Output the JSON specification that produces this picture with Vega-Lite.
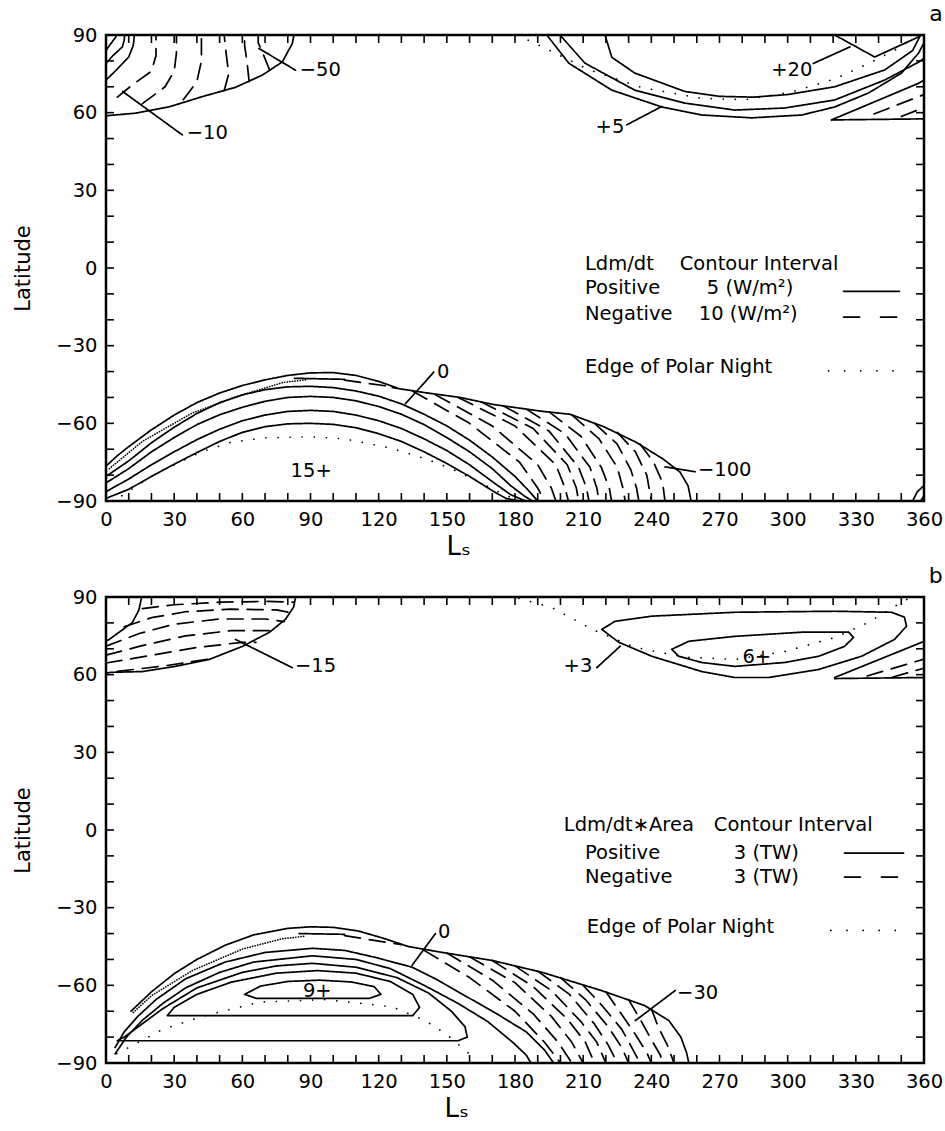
{
"$schema": "https://vega.github.io/schema/vega-lite/v6.json",
"padding": {"left": 10, "top": 1, "right": 0, "bottom": 0},
"background": "white",
"config": {
 "view": {"stroke": "black", "strokeWidth": 2.5},
 "axis": {"domain": false, "labelColor": "black", "titleColor": "black", "labelFont": "DejaVu Sans", "titleFont": "DejaVu Sans", "labelFontSize": 19.5, "grid": false, "labelFlush": false, "labelOverlap": false, "titleFontWeight": "normal", "ticks": false, "tickSize": 0, "labelPadding": 9},
 "title": {"font": "DejaVu Sans", "fontSize": 22, "fontWeight": "normal", "anchor": "end", "color": "black", "offset": -1}
},
"datasets": {
 "tx": [{"v":0},{"v":10},{"v":20},{"v":30},{"v":40},{"v":50},{"v":60},{"v":70},{"v":80},{"v":90},{"v":100},{"v":110},{"v":120},{"v":130},{"v":140},{"v":150},{"v":160},{"v":170},{"v":180},{"v":190},{"v":200},{"v":210},{"v":220},{"v":230},{"v":240},{"v":250},{"v":260},{"v":270},{"v":280},{"v":290},{"v":300},{"v":310},{"v":320},{"v":330},{"v":340},{"v":350},{"v":360}],
 "ty": [{"v":-90},{"v":-80},{"v":-70},{"v":-60},{"v":-50},{"v":-40},{"v":-30},{"v":-20},{"v":-10},{"v":0},{"v":10},{"v":20},{"v":30},{"v":40},{"v":50},{"v":60},{"v":70},{"v":80},{"v":90}],
 "la": [
  {"g":"c1","k":"pos","x":0,"y":84.1},{"g":"c1","k":"pos","x":2,"y":86.5},{"g":"c1","k":"pos","x":4.3,"y":89.2},{"g":"c1","k":"pos","x":4.6,"y":90},
  {"g":"c2","k":"pos","x":0,"y":79},{"g":"c2","k":"pos","x":3,"y":82},{"g":"c2","k":"pos","x":7.2,"y":85.4},{"g":"c2","k":"pos","x":8,"y":88},{"g":"c2","k":"pos","x":8.2,"y":90},
  {"g":"c3","k":"pos","x":0,"y":72.6},{"g":"c3","k":"pos","x":4,"y":76},{"g":"c3","k":"pos","x":10,"y":81.5},{"g":"c3","k":"pos","x":12,"y":86},{"g":"c3","k":"pos","x":12.5,"y":90},
  {"g":"d1","k":"neg","x":5,"y":66},{"g":"d1","k":"neg","x":12,"y":71},{"g":"d1","k":"neg","x":20,"y":76},{"g":"d1","k":"neg","x":22,"y":82},{"g":"d1","k":"neg","x":22,"y":90},
  {"g":"d2","k":"neg","x":16,"y":63.5},{"g":"d2","k":"neg","x":26,"y":70},{"g":"d2","k":"neg","x":30,"y":76},{"g":"d2","k":"neg","x":31,"y":83},{"g":"d2","k":"neg","x":31,"y":90},
  {"g":"d3","k":"neg","x":34,"y":65},{"g":"d3","k":"neg","x":40,"y":72},{"g":"d3","k":"neg","x":42,"y":80},{"g":"d3","k":"neg","x":42,"y":90},
  {"g":"d4","k":"neg","x":52,"y":68.5},{"g":"d4","k":"neg","x":54,"y":75},{"g":"d4","k":"neg","x":53,"y":82},{"g":"d4","k":"neg","x":52,"y":90},
  {"g":"d5","k":"neg","x":63,"y":72},{"g":"d5","k":"neg","x":62,"y":80},{"g":"d5","k":"neg","x":61,"y":86},{"g":"d5","k":"neg","x":61,"y":90},
  {"g":"d6","k":"neg","x":72,"y":76.5},{"g":"d6","k":"neg","x":69,"y":83},{"g":"d6","k":"neg","x":67,"y":87},{"g":"d6","k":"neg","x":67,"y":90},
  {"g":"e1","k":"edge","x":0,"y":58.8},{"g":"e1","k":"edge","x":13,"y":59.8},{"g":"e1","k":"edge","x":28,"y":62.3},{"g":"e1","k":"edge","x":42.4,"y":66.2},{"g":"e1","k":"edge","x":57,"y":69.8},{"g":"e1","k":"edge","x":68.8,"y":74.5},{"g":"e1","k":"edge","x":77.6,"y":79.6},{"g":"e1","k":"edge","x":82,"y":86.7},{"g":"e1","k":"edge","x":82.7,"y":90},
  {"g":"L1","k":"lead","x":7.3,"y":68.2},{"g":"L1","k":"lead","x":33.6,"y":51.4},
  {"g":"L2","k":"lead","x":67.3,"y":84.8},{"g":"L2","k":"lead","x":83.4,"y":76.4},
  {"g":"r1","k":"pos","x":194,"y":90},{"g":"r1","k":"pos","x":203.7,"y":79.1},{"g":"r1","k":"pos","x":222.6,"y":68.7},{"g":"r1","k":"pos","x":244.6,"y":62.2},{"g":"r1","k":"pos","x":262.2,"y":59.1},{"g":"r1","k":"pos","x":284.2,"y":58},{"g":"r1","k":"pos","x":306.2,"y":59.1},{"g":"r1","k":"pos","x":320.7,"y":62.2},{"g":"r1","k":"pos","x":335.6,"y":67.6},{"g":"r1","k":"pos","x":350.1,"y":75.3},{"g":"r1","k":"pos","x":357.6,"y":83},{"g":"r1","k":"pos","x":360,"y":87},
  {"g":"r2","k":"pos","x":199.8,"y":90},{"g":"r2","k":"pos","x":210.8,"y":79.1},{"g":"r2","k":"pos","x":232.7,"y":68.7},{"g":"r2","k":"pos","x":254.7,"y":63.7},{"g":"r2","k":"pos","x":276.7,"y":61},{"g":"r2","k":"pos","x":298.7,"y":61.8},{"g":"r2","k":"pos","x":320.7,"y":64.9},{"g":"r2","k":"pos","x":342.7,"y":72.6},{"g":"r2","k":"pos","x":357.6,"y":79.5},{"g":"r2","k":"pos","x":360,"y":81},
  {"g":"r3","k":"pos","x":219.6,"y":90},{"g":"r3","k":"pos","x":222.6,"y":81.4},{"g":"r3","k":"pos","x":232.7,"y":75.3},{"g":"r3","k":"pos","x":254.7,"y":68.2},{"g":"r3","k":"pos","x":270,"y":66.3},{"g":"r3","k":"pos","x":285,"y":66},{"g":"r3","k":"pos","x":300,"y":67},{"g":"r3","k":"pos","x":320.7,"y":70},{"g":"r3","k":"pos","x":342.7,"y":76.5},{"g":"r3","k":"pos","x":355,"y":84},{"g":"r3","k":"pos","x":358.5,"y":90},
  {"g":"n1","k":"night","x":181,"y":90},{"g":"n1","k":"night","x":193,"y":85},{"g":"n1","k":"night","x":212.5,"y":76.6},{"g":"n1","k":"night","x":235.8,"y":69.7},{"g":"n1","k":"night","x":262.2,"y":65.5},{"g":"n1","k":"night","x":281,"y":65},{"g":"n1","k":"night","x":301.8,"y":68},{"g":"n1","k":"night","x":320.7,"y":73},{"g":"n1","k":"night","x":335.6,"y":79},{"g":"n1","k":"night","x":350.1,"y":85.5},{"g":"n1","k":"night","x":356,"y":89.6},
  {"g":"t20","k":"pos","x":320.7,"y":90},{"g":"t20","k":"pos","x":338.3,"y":81.5},{"g":"t20","k":"pos","x":357.5,"y":89.2},{"g":"t20","k":"pos","x":358,"y":90},
  {"g":"L3","k":"lead","x":311.3,"y":79},{"g":"L3","k":"lead","x":327.4,"y":85.4},
  {"g":"L4","k":"lead","x":229.2,"y":55.3},{"g":"L4","k":"lead","x":244.6,"y":62.4},
  {"g":"w1","k":"pos","x":319.3,"y":57.2},{"g":"w1","k":"pos","x":357.5,"y":71.3},{"g":"w1","k":"pos","x":360,"y":72.5},
  {"g":"w2","k":"edge","x":319.3,"y":57.2},{"g":"w2","k":"edge","x":360,"y":57.6},
  {"g":"w3","k":"neg","x":338,"y":59.5},{"g":"w3","k":"neg","x":360,"y":67},
  {"g":"w4","k":"neg","x":350,"y":58.5},{"g":"w4","k":"neg","x":360,"y":62},
  {"g":"s1","k":"pos","x":0,"y":-76.5},{"g":"s1","k":"pos","x":5,"y":-72.5},{"g":"s1","k":"pos","x":10,"y":-69},{"g":"s1","k":"pos","x":20,"y":-62.5},{"g":"s1","k":"pos","x":30,"y":-56.8},{"g":"s1","k":"pos","x":40,"y":-52},{"g":"s1","k":"pos","x":50,"y":-48.3},{"g":"s1","k":"pos","x":60,"y":-45.4},{"g":"s1","k":"pos","x":70,"y":-43.2},{"g":"s1","k":"pos","x":80,"y":-41.5},{"g":"s1","k":"pos","x":90,"y":-40.5},{"g":"s1","k":"pos","x":100,"y":-40.4},{"g":"s1","k":"pos","x":110,"y":-41.5},{"g":"s1","k":"pos","x":120,"y":-43.8},{"g":"s1","k":"pos","x":128,"y":-46.3},
  {"g":"s2","k":"pos","x":0,"y":-80.5},{"g":"s2","k":"pos","x":10,"y":-74.5},{"g":"s2","k":"pos","x":20,"y":-67.5},{"g":"s2","k":"pos","x":30,"y":-61.5},{"g":"s2","k":"pos","x":40,"y":-56.2},{"g":"s2","k":"pos","x":50,"y":-52},{"g":"s2","k":"pos","x":60,"y":-49},{"g":"s2","k":"pos","x":70,"y":-47},{"g":"s2","k":"pos","x":80,"y":-45.9},{"g":"s2","k":"pos","x":90,"y":-45.7},{"g":"s2","k":"pos","x":100,"y":-46.2},{"g":"s2","k":"pos","x":110,"y":-47.5},{"g":"s2","k":"pos","x":120,"y":-49.5},{"g":"s2","k":"pos","x":130,"y":-52.5},{"g":"s2","k":"pos","x":140,"y":-56.5},{"g":"s2","k":"pos","x":150,"y":-61},{"g":"s2","k":"pos","x":160,"y":-66.5},{"g":"s2","k":"pos","x":170,"y":-73},{"g":"s2","k":"pos","x":180,"y":-80.5},{"g":"s2","k":"pos","x":186,"y":-86},{"g":"s2","k":"pos","x":190,"y":-90},
  {"g":"s3","k":"pos","x":0,"y":-83},{"g":"s3","k":"pos","x":10,"y":-77.5},{"g":"s3","k":"pos","x":20,"y":-71},{"g":"s3","k":"pos","x":30,"y":-65.5},{"g":"s3","k":"pos","x":40,"y":-60.5},{"g":"s3","k":"pos","x":50,"y":-56.7},{"g":"s3","k":"pos","x":60,"y":-53.8},{"g":"s3","k":"pos","x":70,"y":-51.5},{"g":"s3","k":"pos","x":80,"y":-50},{"g":"s3","k":"pos","x":90,"y":-49.6},{"g":"s3","k":"pos","x":100,"y":-50},{"g":"s3","k":"pos","x":110,"y":-51.3},{"g":"s3","k":"pos","x":120,"y":-53.5},{"g":"s3","k":"pos","x":130,"y":-56.5},{"g":"s3","k":"pos","x":140,"y":-60.5},{"g":"s3","k":"pos","x":150,"y":-65.5},{"g":"s3","k":"pos","x":160,"y":-71},{"g":"s3","k":"pos","x":170,"y":-77.5},{"g":"s3","k":"pos","x":178,"y":-84},{"g":"s3","k":"pos","x":184,"y":-88},{"g":"s3","k":"pos","x":187.6,"y":-90},
  {"g":"s4","k":"pos","x":0,"y":-86.4},{"g":"s4","k":"pos","x":10,"y":-81.5},{"g":"s4","k":"pos","x":20,"y":-76},{"g":"s4","k":"pos","x":30,"y":-71},{"g":"s4","k":"pos","x":40,"y":-66.3},{"g":"s4","k":"pos","x":50,"y":-62.3},{"g":"s4","k":"pos","x":60,"y":-59},{"g":"s4","k":"pos","x":70,"y":-56.8},{"g":"s4","k":"pos","x":80,"y":-55.4},{"g":"s4","k":"pos","x":90,"y":-55},{"g":"s4","k":"pos","x":100,"y":-55.4},{"g":"s4","k":"pos","x":110,"y":-56.8},{"g":"s4","k":"pos","x":120,"y":-59},{"g":"s4","k":"pos","x":130,"y":-62},{"g":"s4","k":"pos","x":140,"y":-66},{"g":"s4","k":"pos","x":150,"y":-70.5},{"g":"s4","k":"pos","x":160,"y":-76},{"g":"s4","k":"pos","x":170,"y":-82.5},{"g":"s4","k":"pos","x":178,"y":-87.5},{"g":"s4","k":"pos","x":184.5,"y":-90},
  {"g":"s5","k":"pos","x":0,"y":-89},{"g":"s5","k":"pos","x":10,"y":-85.5},{"g":"s5","k":"pos","x":20,"y":-80.5},{"g":"s5","k":"pos","x":30,"y":-75.8},{"g":"s5","k":"pos","x":40,"y":-71.3},{"g":"s5","k":"pos","x":50,"y":-67},{"g":"s5","k":"pos","x":60,"y":-63.5},{"g":"s5","k":"pos","x":70,"y":-61.3},{"g":"s5","k":"pos","x":80,"y":-60.2},{"g":"s5","k":"pos","x":90,"y":-60},{"g":"s5","k":"pos","x":100,"y":-60.4},{"g":"s5","k":"pos","x":110,"y":-61.7},{"g":"s5","k":"pos","x":120,"y":-64},{"g":"s5","k":"pos","x":130,"y":-67},{"g":"s5","k":"pos","x":140,"y":-71},{"g":"s5","k":"pos","x":150,"y":-75.5},{"g":"s5","k":"pos","x":160,"y":-80.5},{"g":"s5","k":"pos","x":170,"y":-86},{"g":"s5","k":"pos","x":176,"y":-89},{"g":"s5","k":"pos","x":182,"y":-90},
  {"g":"n2","k":"night","x":7,"y":-88},{"g":"n2","k":"night","x":20,"y":-80.4},{"g":"n2","k":"night","x":30,"y":-76},{"g":"n2","k":"night","x":42,"y":-71},{"g":"n2","k":"night","x":55,"y":-67.3},{"g":"n2","k":"night","x":70,"y":-65.6},{"g":"n2","k":"night","x":90,"y":-65.2},{"g":"n2","k":"night","x":105,"y":-66},{"g":"n2","k":"night","x":125,"y":-69.5},{"g":"n2","k":"night","x":140,"y":-73.5},{"g":"n2","k":"night","x":152,"y":-77.5},{"g":"n2","k":"night","x":165,"y":-83},{"g":"n2","k":"night","x":175,"y":-87.5},{"g":"n2","k":"night","x":181,"y":-89.5},
  {"g":"db","k":"dense","x":1.5,"y":-77.5},{"g":"db","k":"dense","x":16,"y":-67},{"g":"db","k":"dense","x":38,"y":-56},{"g":"db","k":"dense","x":60,"y":-49},{"g":"db","k":"dense","x":78,"y":-44.2},{"g":"db","k":"dense","x":88,"y":-43.2},
  {"g":"g1","k":"pos","x":83,"y":-42.6},{"g":"g1","k":"pos","x":105,"y":-43},
  {"g":"g2","k":"neg","x":105,"y":-43.3},{"g":"g2","k":"neg","x":127,"y":-46},
  {"g":"e2","k":"edge","x":126,"y":-46.2},{"g":"e2","k":"edge","x":140,"y":-48.1},{"g":"e2","k":"edge","x":155.8,"y":-50},{"g":"e2","k":"edge","x":170.3,"y":-52.7},{"g":"e2","k":"edge","x":192.3,"y":-55.4},{"g":"e2","k":"edge","x":204.2,"y":-56.5},{"g":"e2","k":"edge","x":218.8,"y":-61.2},{"g":"e2","k":"edge","x":233.3,"y":-67.3},{"g":"e2","k":"edge","x":245.2,"y":-73.8},{"g":"e2","k":"edge","x":252.6,"y":-78.8},{"g":"e2","k":"edge","x":256.2,"y":-84.2},{"g":"e2","k":"edge","x":257.5,"y":-90},
  {"g":"f1","k":"neg","x":135,"y":-47.6},{"g":"f1","k":"neg","x":160,"y":-60},{"g":"f1","k":"neg","x":182,"y":-75},{"g":"f1","k":"neg","x":190,"y":-85},{"g":"f1","k":"neg","x":193,"y":-90},
  {"g":"f2","k":"neg","x":145,"y":-49},{"g":"f2","k":"neg","x":170,"y":-61},{"g":"f2","k":"neg","x":190,"y":-76},{"g":"f2","k":"neg","x":196,"y":-85},{"g":"f2","k":"neg","x":198,"y":-90},
  {"g":"f3","k":"neg","x":155,"y":-50},{"g":"f3","k":"neg","x":180,"y":-61},{"g":"f3","k":"neg","x":198,"y":-76},{"g":"f3","k":"neg","x":202,"y":-85},{"g":"f3","k":"neg","x":203.5,"y":-90},
  {"g":"f4","k":"neg","x":165,"y":-51.7},{"g":"f4","k":"neg","x":188,"y":-62},{"g":"f4","k":"neg","x":203,"y":-76},{"g":"f4","k":"neg","x":207,"y":-85},{"g":"f4","k":"neg","x":208,"y":-90},
  {"g":"f5","k":"neg","x":175,"y":-53.3},{"g":"f5","k":"neg","x":195,"y":-63},{"g":"f5","k":"neg","x":208,"y":-77},{"g":"f5","k":"neg","x":211.5,"y":-85},{"g":"f5","k":"neg","x":212.5,"y":-90},
  {"g":"f6","k":"neg","x":185,"y":-54.5},{"g":"f6","k":"neg","x":202,"y":-64},{"g":"f6","k":"neg","x":213,"y":-77},{"g":"f6","k":"neg","x":216,"y":-85},{"g":"f6","k":"neg","x":217,"y":-90},
  {"g":"f7","k":"neg","x":195,"y":-55.6},{"g":"f7","k":"neg","x":209,"y":-65},{"g":"f7","k":"neg","x":218,"y":-77},{"g":"f7","k":"neg","x":221.5,"y":-85},{"g":"f7","k":"neg","x":222.5,"y":-90},
  {"g":"f8","k":"neg","x":205,"y":-56.7},{"g":"f8","k":"neg","x":217,"y":-66},{"g":"f8","k":"neg","x":225,"y":-77},{"g":"f8","k":"neg","x":227.5,"y":-85},{"g":"f8","k":"neg","x":228.5,"y":-90},
  {"g":"f9","k":"neg","x":215,"y":-60},{"g":"f9","k":"neg","x":225,"y":-68},{"g":"f9","k":"neg","x":231,"y":-78},{"g":"f9","k":"neg","x":233.5,"y":-85},{"g":"f9","k":"neg","x":234.5,"y":-90},
  {"g":"f10","k":"neg","x":225,"y":-63.5},{"g":"f10","k":"neg","x":233,"y":-71},{"g":"f10","k":"neg","x":238,"y":-80},{"g":"f10","k":"neg","x":240,"y":-90},
  {"g":"f11","k":"neg","x":235,"y":-68},{"g":"f11","k":"neg","x":241,"y":-75},{"g":"f11","k":"neg","x":245,"y":-83},{"g":"f11","k":"neg","x":246,"y":-90},
  {"g":"L5","k":"lead","x":131.8,"y":-52.4},{"g":"L5","k":"lead","x":144.3,"y":-40.2},
  {"g":"L6","k":"lead","x":246,"y":-76.8},{"g":"L6","k":"lead","x":259.3,"y":-78.7},
  {"g":"cr1","k":"pos","x":355,"y":-90},{"g":"cr1","k":"pos","x":357,"y":-86.5},{"g":"cr1","k":"pos","x":360,"y":-84},
  {"g":"cr2","k":"pos","x":358.5,"y":-90},{"g":"cr2","k":"pos","x":360,"y":-88},
  {"g":"kp","k":"pos","x":324.6,"y":-9},{"g":"kp","k":"pos","x":349.2,"y":-9},
  {"g":"kn","k":"kneg","x":324.6,"y":-19},{"g":"kn","k":"kneg","x":349.2,"y":-19},
  {"g":"kd","k":"knight","x":318,"y":-39.7},{"g":"kd","k":"knight","x":347,"y":-39.7}
 ],
 "lb": [
  {"g":"c1","k":"pos","x":0,"y":73},{"g":"c1","k":"pos","x":1.4,"y":73.6},{"g":"c1","k":"pos","x":11.6,"y":80.1},{"g":"c1","k":"pos","x":14.5,"y":85},{"g":"c1","k":"pos","x":15.7,"y":90},
  {"g":"e1","k":"edge","x":0,"y":60.5},{"g":"e1","k":"edge","x":2,"y":60.9},{"g":"e1","k":"edge","x":16,"y":61.2},{"g":"e1","k":"edge","x":30.5,"y":63.2},{"g":"e1","k":"edge","x":45.5,"y":65.9},{"g":"e1","k":"edge","x":60,"y":70.9},{"g":"e1","k":"edge","x":72,"y":76.4},{"g":"e1","k":"edge","x":79,"y":81.4},{"g":"e1","k":"edge","x":82.5,"y":86},{"g":"e1","k":"edge","x":83.5,"y":90},
  {"g":"d1","k":"neg","x":16,"y":85.5},{"g":"d1","k":"neg","x":30,"y":87},{"g":"d1","k":"neg","x":50,"y":88},{"g":"d1","k":"neg","x":70,"y":88.3},{"g":"d1","k":"neg","x":82.8,"y":88},
  {"g":"d2","k":"neg","x":8,"y":78.5},{"g":"d2","k":"neg","x":20,"y":82},{"g":"d2","k":"neg","x":35,"y":84.3},{"g":"d2","k":"neg","x":55,"y":85.3},{"g":"d2","k":"neg","x":75,"y":85},{"g":"d2","k":"neg","x":81,"y":84},
  {"g":"d3","k":"neg","x":0,"y":71},{"g":"d3","k":"neg","x":15,"y":76},{"g":"d3","k":"neg","x":30,"y":79.5},{"g":"d3","k":"neg","x":50,"y":81.5},{"g":"d3","k":"neg","x":70,"y":81.5},{"g":"d3","k":"neg","x":78.5,"y":80.5},
  {"g":"d4","k":"neg","x":0,"y":67.5},{"g":"d4","k":"neg","x":15,"y":71},{"g":"d4","k":"neg","x":35,"y":75},{"g":"d4","k":"neg","x":55,"y":77},{"g":"d4","k":"neg","x":72,"y":77},
  {"g":"d5","k":"neg","x":0,"y":64.5},{"g":"d5","k":"neg","x":20,"y":67.5},{"g":"d5","k":"neg","x":40,"y":70.5},{"g":"d5","k":"neg","x":60,"y":72.5},{"g":"d5","k":"neg","x":66,"y":72.5},
  {"g":"d6","k":"neg","x":5,"y":61.3},{"g":"d6","k":"neg","x":25,"y":63.3},{"g":"d6","k":"neg","x":45,"y":66},
  {"g":"L1","k":"lead","x":57,"y":73.6},{"g":"L1","k":"lead","x":82,"y":62.7},
  {"g":"o1","k":"pos","x":218.2,"y":77.5},{"g":"o1","k":"pos","x":224,"y":80.6},{"g":"o1","k":"pos","x":240.2,"y":82.6},{"g":"o1","k":"pos","x":276.7,"y":84.1},{"g":"o1","k":"pos","x":320.7,"y":84.5},{"g":"o1","k":"pos","x":345.7,"y":84.1},{"g":"o1","k":"pos","x":351.4,"y":82.2},{"g":"o1","k":"pos","x":352.3,"y":78.7},{"g":"o1","k":"pos","x":347,"y":73.6},{"g":"o1","k":"pos","x":332.5,"y":67.1},{"g":"o1","k":"pos","x":313.6,"y":62},{"g":"o1","k":"pos","x":291.6,"y":58.9},{"g":"o1","k":"pos","x":276.7,"y":58.9},{"g":"o1","k":"pos","x":262.2,"y":61.2},{"g":"o1","k":"pos","x":240.2,"y":67.1},{"g":"o1","k":"pos","x":225.7,"y":72.5},{"g":"o1","k":"pos","x":218.2,"y":77.5},
  {"g":"o2","k":"pos","x":249,"y":69.8},{"g":"o2","k":"pos","x":256.5,"y":72.9},{"g":"o2","k":"pos","x":276.7,"y":74.8},{"g":"o2","k":"pos","x":306.2,"y":76.4},{"g":"o2","k":"pos","x":326.8,"y":76.4},{"g":"o2","k":"pos","x":329,"y":74.4},{"g":"o2","k":"pos","x":325,"y":70.9},{"g":"o2","k":"pos","x":313.6,"y":67.1},{"g":"o2","k":"pos","x":298.7,"y":64.7},{"g":"o2","k":"pos","x":276.7,"y":63.2},{"g":"o2","k":"pos","x":262.2,"y":64.7},{"g":"o2","k":"pos","x":252.1,"y":67.1},{"g":"o2","k":"pos","x":249,"y":69.8},
  {"g":"n1","k":"night","x":181.7,"y":89.5},{"g":"n1","k":"night","x":196,"y":86},{"g":"n1","k":"night","x":214,"y":77.5},{"g":"n1","k":"night","x":233,"y":70.5},{"g":"n1","k":"night","x":255,"y":66.7},{"g":"n1","k":"night","x":277,"y":65.9},{"g":"n1","k":"night","x":299,"y":69},{"g":"n1","k":"night","x":321,"y":74.4},{"g":"n1","k":"night","x":335.6,"y":80.2},{"g":"n1","k":"night","x":350,"y":87.9},{"g":"n1","k":"night","x":354.5,"y":90},
  {"g":"L2","k":"lead","x":216,"y":62.7},{"g":"L2","k":"lead","x":226.3,"y":71},
  {"g":"w1","k":"pos","x":320.7,"y":58.9},{"g":"w1","k":"pos","x":359,"y":72.5},{"g":"w1","k":"pos","x":360,"y":72.8},
  {"g":"w2","k":"edge","x":320.7,"y":58.5},{"g":"w2","k":"edge","x":360,"y":58.9},
  {"g":"w3","k":"neg","x":335,"y":59.5},{"g":"w3","k":"neg","x":360,"y":66},
  {"g":"w4","k":"neg","x":346,"y":59},{"g":"w4","k":"neg","x":360,"y":62.5},
  {"g":"s1","k":"pos","x":11,"y":-70},{"g":"s1","k":"pos","x":20,"y":-62.5},{"g":"s1","k":"pos","x":30,"y":-55.5},{"g":"s1","k":"pos","x":40,"y":-50},{"g":"s1","k":"pos","x":52.5,"y":-44.5},{"g":"s1","k":"pos","x":65,"y":-40.5},{"g":"s1","k":"pos","x":80,"y":-38},{"g":"s1","k":"pos","x":90,"y":-37.4},{"g":"s1","k":"pos","x":100,"y":-37.6},{"g":"s1","k":"pos","x":111,"y":-39},{"g":"s1","k":"pos","x":122,"y":-41.8},{"g":"s1","k":"pos","x":133,"y":-45},
  {"g":"db","k":"dense","x":12,"y":-70.5},{"g":"db","k":"dense","x":20,"y":-64},{"g":"db","k":"dense","x":38,"y":-54.3},{"g":"db","k":"dense","x":60,"y":-46},{"g":"db","k":"dense","x":77.6,"y":-42},{"g":"db","k":"dense","x":88,"y":-41},
  {"g":"g1","k":"pos","x":85,"y":-40},{"g":"g1","k":"pos","x":105,"y":-40.3},
  {"g":"g2","k":"neg","x":105,"y":-40.8},{"g":"g2","k":"neg","x":130,"y":-44.3},
  {"g":"s2","k":"pos","x":4,"y":-84},{"g":"s2","k":"pos","x":8,"y":-78},{"g":"s2","k":"pos","x":14,"y":-72},{"g":"s2","k":"pos","x":22,"y":-65.5},{"g":"s2","k":"pos","x":35,"y":-57.5},{"g":"s2","k":"pos","x":52.5,"y":-51},{"g":"s2","k":"pos","x":70,"y":-47.3},{"g":"s2","k":"pos","x":90.8,"y":-45.7},{"g":"s2","k":"pos","x":105,"y":-46.5},{"g":"s2","k":"pos","x":118.5,"y":-49.2},{"g":"s2","k":"pos","x":134.7,"y":-53},{"g":"s2","k":"pos","x":145,"y":-57.5},{"g":"s2","k":"pos","x":158,"y":-64},{"g":"s2","k":"pos","x":172,"y":-71},{"g":"s2","k":"pos","x":185,"y":-78},{"g":"s2","k":"pos","x":193,"y":-85},{"g":"s2","k":"pos","x":197,"y":-90},
  {"g":"s3","k":"pos","x":4,"y":-86.5},{"g":"s3","k":"pos","x":9,"y":-80},{"g":"s3","k":"pos","x":16,"y":-73.5},{"g":"s3","k":"pos","x":25,"y":-67},{"g":"s3","k":"pos","x":35,"y":-61},{"g":"s3","k":"pos","x":50,"y":-55},{"g":"s3","k":"pos","x":65,"y":-51},{"g":"s3","k":"pos","x":90.8,"y":-48.6},{"g":"s3","k":"pos","x":110,"y":-50},{"g":"s3","k":"pos","x":125,"y":-53.5},{"g":"s3","k":"pos","x":140,"y":-60},{"g":"s3","k":"pos","x":155,"y":-67},{"g":"s3","k":"pos","x":168,"y":-74},{"g":"s3","k":"pos","x":179,"y":-82},{"g":"s3","k":"pos","x":185,"y":-87},{"g":"s3","k":"pos","x":187,"y":-90},
  {"g":"p1","k":"pos","x":5,"y":-81.4},{"g":"p1","k":"pos","x":8,"y":-80},{"g":"p1","k":"pos","x":15,"y":-75.5},{"g":"p1","k":"pos","x":25,"y":-69},{"g":"p1","k":"pos","x":40,"y":-61},{"g":"p1","k":"pos","x":60,"y":-55},{"g":"p1","k":"pos","x":75,"y":-52.5},{"g":"p1","k":"pos","x":90.8,"y":-51.5},{"g":"p1","k":"pos","x":110,"y":-53},{"g":"p1","k":"pos","x":128,"y":-57},{"g":"p1","k":"pos","x":142,"y":-63},{"g":"p1","k":"pos","x":152,"y":-70},{"g":"p1","k":"pos","x":158,"y":-76},{"g":"p1","k":"pos","x":159,"y":-80},{"g":"p1","k":"pos","x":155,"y":-81.4},{"g":"p1","k":"pos","x":5,"y":-81.4},
  {"g":"p2","k":"pos","x":27,"y":-71.7},{"g":"p2","k":"pos","x":30,"y":-68.5},{"g":"p2","k":"pos","x":40,"y":-63.5},{"g":"p2","k":"pos","x":55,"y":-58.8},{"g":"p2","k":"pos","x":75,"y":-55.3},{"g":"p2","k":"pos","x":93,"y":-54.3},{"g":"p2","k":"pos","x":110,"y":-55.3},{"g":"p2","k":"pos","x":125,"y":-58.5},{"g":"p2","k":"pos","x":135,"y":-63.5},{"g":"p2","k":"pos","x":138,"y":-68.5},{"g":"p2","k":"pos","x":135,"y":-71.7},{"g":"p2","k":"pos","x":27,"y":-71.7},
  {"g":"p3","k":"pos","x":61,"y":-63.5},{"g":"p3","k":"pos","x":68,"y":-60.3},{"g":"p3","k":"pos","x":80,"y":-58.5},{"g":"p3","k":"pos","x":94,"y":-58},{"g":"p3","k":"pos","x":108,"y":-58.7},{"g":"p3","k":"pos","x":118,"y":-60.5},{"g":"p3","k":"pos","x":121,"y":-63.5},{"g":"p3","k":"pos","x":116,"y":-65},{"g":"p3","k":"pos","x":66,"y":-65},{"g":"p3","k":"pos","x":61,"y":-63.5},
  {"g":"n2","k":"night","x":0,"y":-88.5},{"g":"n2","k":"night","x":10,"y":-84},{"g":"n2","k":"night","x":25,"y":-77},{"g":"n2","k":"night","x":42.4,"y":-72},{"g":"n2","k":"night","x":67.5,"y":-66.5},{"g":"n2","k":"night","x":96.5,"y":-65.5},{"g":"n2","k":"night","x":126,"y":-68.3},{"g":"n2","k":"night","x":140.4,"y":-73.6},{"g":"n2","k":"night","x":150,"y":-79},{"g":"n2","k":"night","x":158,"y":-85},{"g":"n2","k":"night","x":163,"y":-89},
  {"g":"e2","k":"edge","x":133,"y":-45},{"g":"e2","k":"edge","x":148,"y":-47.3},{"g":"e2","k":"edge","x":170,"y":-50.4},{"g":"e2","k":"edge","x":192,"y":-55},{"g":"e2","k":"edge","x":205,"y":-58.5},{"g":"e2","k":"edge","x":218,"y":-62},{"g":"e2","k":"edge","x":237,"y":-67.8},{"g":"e2","k":"edge","x":247.7,"y":-73.6},{"g":"e2","k":"edge","x":253,"y":-80},{"g":"e2","k":"edge","x":255.5,"y":-86},{"g":"e2","k":"edge","x":256.5,"y":-90},
  {"g":"f1","k":"neg","x":140,"y":-46.5},{"g":"f1","k":"neg","x":160,"y":-57},{"g":"f1","k":"neg","x":180,"y":-70},{"g":"f1","k":"neg","x":193,"y":-82},{"g":"f1","k":"neg","x":200,"y":-90},
  {"g":"f2","k":"neg","x":150,"y":-47.5},{"g":"f2","k":"neg","x":170,"y":-58},{"g":"f2","k":"neg","x":188,"y":-71},{"g":"f2","k":"neg","x":199,"y":-82},{"g":"f2","k":"neg","x":205,"y":-90},
  {"g":"f3","k":"neg","x":160,"y":-49},{"g":"f3","k":"neg","x":180,"y":-59},{"g":"f3","k":"neg","x":196,"y":-72},{"g":"f3","k":"neg","x":205,"y":-82},{"g":"f3","k":"neg","x":210,"y":-90},
  {"g":"f4","k":"neg","x":170,"y":-50.4},{"g":"f4","k":"neg","x":188,"y":-60.5},{"g":"f4","k":"neg","x":203,"y":-73},{"g":"f4","k":"neg","x":211,"y":-82},{"g":"f4","k":"neg","x":215,"y":-90},
  {"g":"f5","k":"neg","x":180,"y":-52.5},{"g":"f5","k":"neg","x":196,"y":-62},{"g":"f5","k":"neg","x":209,"y":-74},{"g":"f5","k":"neg","x":216,"y":-82},{"g":"f5","k":"neg","x":220,"y":-90},
  {"g":"f6","k":"neg","x":190,"y":-54.5},{"g":"f6","k":"neg","x":204,"y":-63.5},{"g":"f6","k":"neg","x":215,"y":-75},{"g":"f6","k":"neg","x":221,"y":-83},{"g":"f6","k":"neg","x":225,"y":-90},
  {"g":"f7","k":"neg","x":200,"y":-57},{"g":"f7","k":"neg","x":211,"y":-65.5},{"g":"f7","k":"neg","x":221,"y":-76},{"g":"f7","k":"neg","x":227,"y":-84},{"g":"f7","k":"neg","x":230,"y":-90},
  {"g":"f8","k":"neg","x":210,"y":-60},{"g":"f8","k":"neg","x":218,"y":-67.5},{"g":"f8","k":"neg","x":227,"y":-77},{"g":"f8","k":"neg","x":232,"y":-85},{"g":"f8","k":"neg","x":235,"y":-90},
  {"g":"f9","k":"neg","x":220,"y":-62.5},{"g":"f9","k":"neg","x":226,"y":-70},{"g":"f9","k":"neg","x":233,"y":-79},{"g":"f9","k":"neg","x":238,"y":-86},{"g":"f9","k":"neg","x":240,"y":-90},
  {"g":"f10","k":"neg","x":230,"y":-65.5},{"g":"f10","k":"neg","x":235,"y":-73},{"g":"f10","k":"neg","x":240,"y":-81},{"g":"f10","k":"neg","x":244,"y":-87},{"g":"f10","k":"neg","x":245,"y":-90},
  {"g":"f11","k":"neg","x":240,"y":-69},{"g":"f11","k":"neg","x":243,"y":-76},{"g":"f11","k":"neg","x":247,"y":-83},{"g":"f11","k":"neg","x":250,"y":-90},
  {"g":"L3","k":"lead","x":134.7,"y":-52.3},{"g":"L3","k":"lead","x":145,"y":-40},
  {"g":"L4","k":"lead","x":250.5,"y":-62},{"g":"L4","k":"lead","x":233,"y":-73.6},
  {"g":"kp","k":"pos","x":325,"y":-8.9},{"g":"kp","k":"pos","x":351,"y":-8.9},
  {"g":"kn","k":"kneg","x":325,"y":-18.2},{"g":"kn","k":"kneg","x":351,"y":-18.2},
  {"g":"kd","k":"knight","x":319,"y":-38.8},{"g":"kd","k":"knight","x":349,"y":-38.8}
 ],
 "ta": [
  {"x":44.6,"y":52.2,"t":"−10"},{"x":94.3,"y":76.4,"t":"−50"},{"x":301.8,"y":76.4,"t":"+20"},{"x":221.8,"y":54.5,"t":"+5"},{"x":148.4,"y":-40.1,"t":"0"},{"x":90.3,"y":-78.6,"t":"15+"},{"x":272.3,"y":-78.2,"t":"−100"}
 ],
 "tb": [
  {"x":92.2,"y":63.2,"t":"−15"},{"x":207.7,"y":63.2,"t":"+3"},{"x":286.4,"y":67,"t":"6+"},{"x":148.8,"y":-39.5,"t":"0"},{"x":93,"y":-62.3,"t":"9+"},{"x":260.4,"y":-62.8,"t":"−30"}
 ],
 "sa": [
  {"x":210.8,"y":1.4,"t":"Ldm/dt"},{"x":252.5,"y":1.4,"t":"Contour Interval"},{"x":210.8,"y":-7.8,"t":"Positive"},{"x":264.4,"y":-7.8,"t":"5 (W/m²)"},{"x":210.8,"y":-17.8,"t":"Negative"},{"x":260.9,"y":-17.8,"t":"10 (W/m²)"},{"x":210.8,"y":-38.2,"t":"Edge of Polar Night"}
 ],
 "sb": [
  {"x":201.5,"y":2,"t":"Ldm/dt∗Area"},{"x":267.5,"y":2,"t":"Contour Interval"},{"x":210.8,"y":-8.9,"t":"Positive"},{"x":276.3,"y":-8.9,"t":"3 (TW)"},{"x":210.8,"y":-18.2,"t":"Negative"},{"x":276.3,"y":-18.2,"t":"3 (TW)"},{"x":211.6,"y":-37.6,"t":"Edge of Polar Night"}
 ]
},
"spacing": 96,
"bounds": "flush",
"vconcat": [
 {
  "width": 818, "height": 466,
  "title": {"text": "a"},
  "resolve": {"axis": {"x": "independent", "y": "independent"}},
  "layer": [
   {
    "data": {"name": "la"},
    "mark": {"type": "line", "strokeCap": "round", "strokeJoin": "round", "color": "black", "clip": true},
    "encoding": {
     "x": {"field": "x", "type": "quantitative", "scale": {"domain": [0, 360], "nice": false, "zero": false},
      "axis": {"orient": "bottom", "values": [0,30,60,90,120,150,180,210,240,270,300,330,360], "title": "Lₛ", "titleFontSize": 26, "titleX": 352, "titleY": 45, "titleBaseline": "middle", "titleAlign": "center"}},
     "y": {"field": "y", "type": "quantitative", "scale": {"domain": [-90, 90], "nice": false, "zero": false},
      "axis": {"orient": "left", "values": [-90,-60,-30,0,30,60,90], "title": "Latitude", "titleFontSize": 21, "titleX": -83, "titleY": 233, "titleAngle": -90, "titleBaseline": "middle", "titleAlign": "center"}},
     "detail": {"field": "g", "type": "nominal"},
     "order": {"value": null},
     "strokeDash": {"field": "k", "type": "nominal", "legend": null, "scale": {"domain": ["pos","neg","night","edge","dense","lead","kneg","knight"], "range": [[1,0],[16,9],[0.1,12],[1,0],[0.1,2.5],[1,0],[16,21],[0.1,16]]}},
     "strokeWidth": {"field": "k", "type": "ordinal", "legend": null, "scale": {"domain": ["pos","neg","night","edge","dense","lead","kneg","knight"], "range": [1.7,1.7,3.8,3.8,4.2,1.7,1.7,3.8]}}
    }
   },
   {"data": {"name": "tx"}, "mark": {"type": "rule", "color": "black", "strokeWidth": 1.6}, "encoding": {"x": {"field": "v", "type": "quantitative", "axis": null}, "y": {"datum": -90, "axis": null}, "y2": {"datum": -86.9}}},
   {"data": {"name": "tx"}, "mark": {"type": "rule", "color": "black", "strokeWidth": 1.6}, "encoding": {"x": {"field": "v", "type": "quantitative", "axis": null}, "y": {"datum": 90, "axis": null}, "y2": {"datum": 86.9}}},
   {"data": {"name": "ty"}, "mark": {"type": "rule", "color": "black", "strokeWidth": 1.6}, "encoding": {"y": {"field": "v", "type": "quantitative", "axis": null}, "x": {"datum": 0, "axis": null}, "x2": {"datum": 3.5}}},
   {"data": {"name": "ty"}, "mark": {"type": "rule", "color": "black", "strokeWidth": 1.6}, "encoding": {"y": {"field": "v", "type": "quantitative", "axis": null}, "x": {"datum": 360, "axis": null}, "x2": {"datum": 356.5}}},
   {
    "data": {"name": "ta"},
    "mark": {"type": "text", "font": "DejaVu Sans", "fontSize": 19.5, "align": "center", "baseline": "middle", "color": "black"},
    "encoding": {"x": {"field": "x", "type": "quantitative", "axis": null}, "y": {"field": "y", "type": "quantitative", "axis": null}, "text": {"field": "t"}}
   },
   {
    "data": {"name": "sa"},
    "mark": {"type": "text", "font": "DejaVu Sans", "fontSize": 19.5, "align": "left", "baseline": "middle", "color": "black"},
    "encoding": {"x": {"field": "x", "type": "quantitative", "axis": null}, "y": {"field": "y", "type": "quantitative", "axis": null}, "text": {"field": "t"}}
   }
  ]
 },
 {
  "width": 818, "height": 466,
  "title": {"text": "b"},
  "resolve": {"axis": {"x": "independent", "y": "independent"}},
  "layer": [
   {
    "data": {"name": "lb"},
    "mark": {"type": "line", "strokeCap": "round", "strokeJoin": "round", "color": "black", "clip": true},
    "encoding": {
     "x": {"field": "x", "type": "quantitative", "scale": {"domain": [0, 360], "nice": false, "zero": false},
      "axis": {"orient": "bottom", "values": [0,30,60,90,120,150,180,210,240,270,300,330,360], "title": "Lₛ", "titleFontSize": 26, "titleX": 350, "titleY": 45, "titleBaseline": "middle", "titleAlign": "center"}},
     "y": {"field": "y", "type": "quantitative", "scale": {"domain": [-90, 90], "nice": false, "zero": false},
      "axis": {"orient": "left", "values": [-90,-60,-30,0,30,60,90], "title": "Latitude", "titleFontSize": 21, "titleX": -83, "titleY": 233, "titleAngle": -90, "titleBaseline": "middle", "titleAlign": "center"}},
     "detail": {"field": "g", "type": "nominal"},
     "order": {"value": null},
     "strokeDash": {"field": "k", "type": "nominal", "legend": null, "scale": {"domain": ["pos","neg","night","edge","dense","lead","kneg","knight"], "range": [[1,0],[11,5],[0.1,12],[1,0],[0.1,2.5],[1,0],[16,21],[0.1,16]]}},
     "strokeWidth": {"field": "k", "type": "ordinal", "legend": null, "scale": {"domain": ["pos","neg","night","edge","dense","lead","kneg","knight"], "range": [1.7,1.7,3.8,3.8,4.2,1.7,1.7,3.8]}}
    }
   },
   {"data": {"name": "tx"}, "mark": {"type": "rule", "color": "black", "strokeWidth": 1.6}, "encoding": {"x": {"field": "v", "type": "quantitative", "axis": null}, "y": {"datum": -90, "axis": null}, "y2": {"datum": -86.9}}},
   {"data": {"name": "tx"}, "mark": {"type": "rule", "color": "black", "strokeWidth": 1.6}, "encoding": {"x": {"field": "v", "type": "quantitative", "axis": null}, "y": {"datum": 90, "axis": null}, "y2": {"datum": 86.9}}},
   {"data": {"name": "ty"}, "mark": {"type": "rule", "color": "black", "strokeWidth": 1.6}, "encoding": {"y": {"field": "v", "type": "quantitative", "axis": null}, "x": {"datum": 0, "axis": null}, "x2": {"datum": 3.5}}},
   {"data": {"name": "ty"}, "mark": {"type": "rule", "color": "black", "strokeWidth": 1.6}, "encoding": {"y": {"field": "v", "type": "quantitative", "axis": null}, "x": {"datum": 360, "axis": null}, "x2": {"datum": 356.5}}},
   {
    "data": {"name": "tb"},
    "mark": {"type": "text", "font": "DejaVu Sans", "fontSize": 19.5, "align": "center", "baseline": "middle", "color": "black"},
    "encoding": {"x": {"field": "x", "type": "quantitative", "axis": null}, "y": {"field": "y", "type": "quantitative", "axis": null}, "text": {"field": "t"}}
   },
   {
    "data": {"name": "sb"},
    "mark": {"type": "text", "font": "DejaVu Sans", "fontSize": 19.5, "align": "left", "baseline": "middle", "color": "black"},
    "encoding": {"x": {"field": "x", "type": "quantitative", "axis": null}, "y": {"field": "y", "type": "quantitative", "axis": null}, "text": {"field": "t"}}
   }
  ]
 }
]
}
